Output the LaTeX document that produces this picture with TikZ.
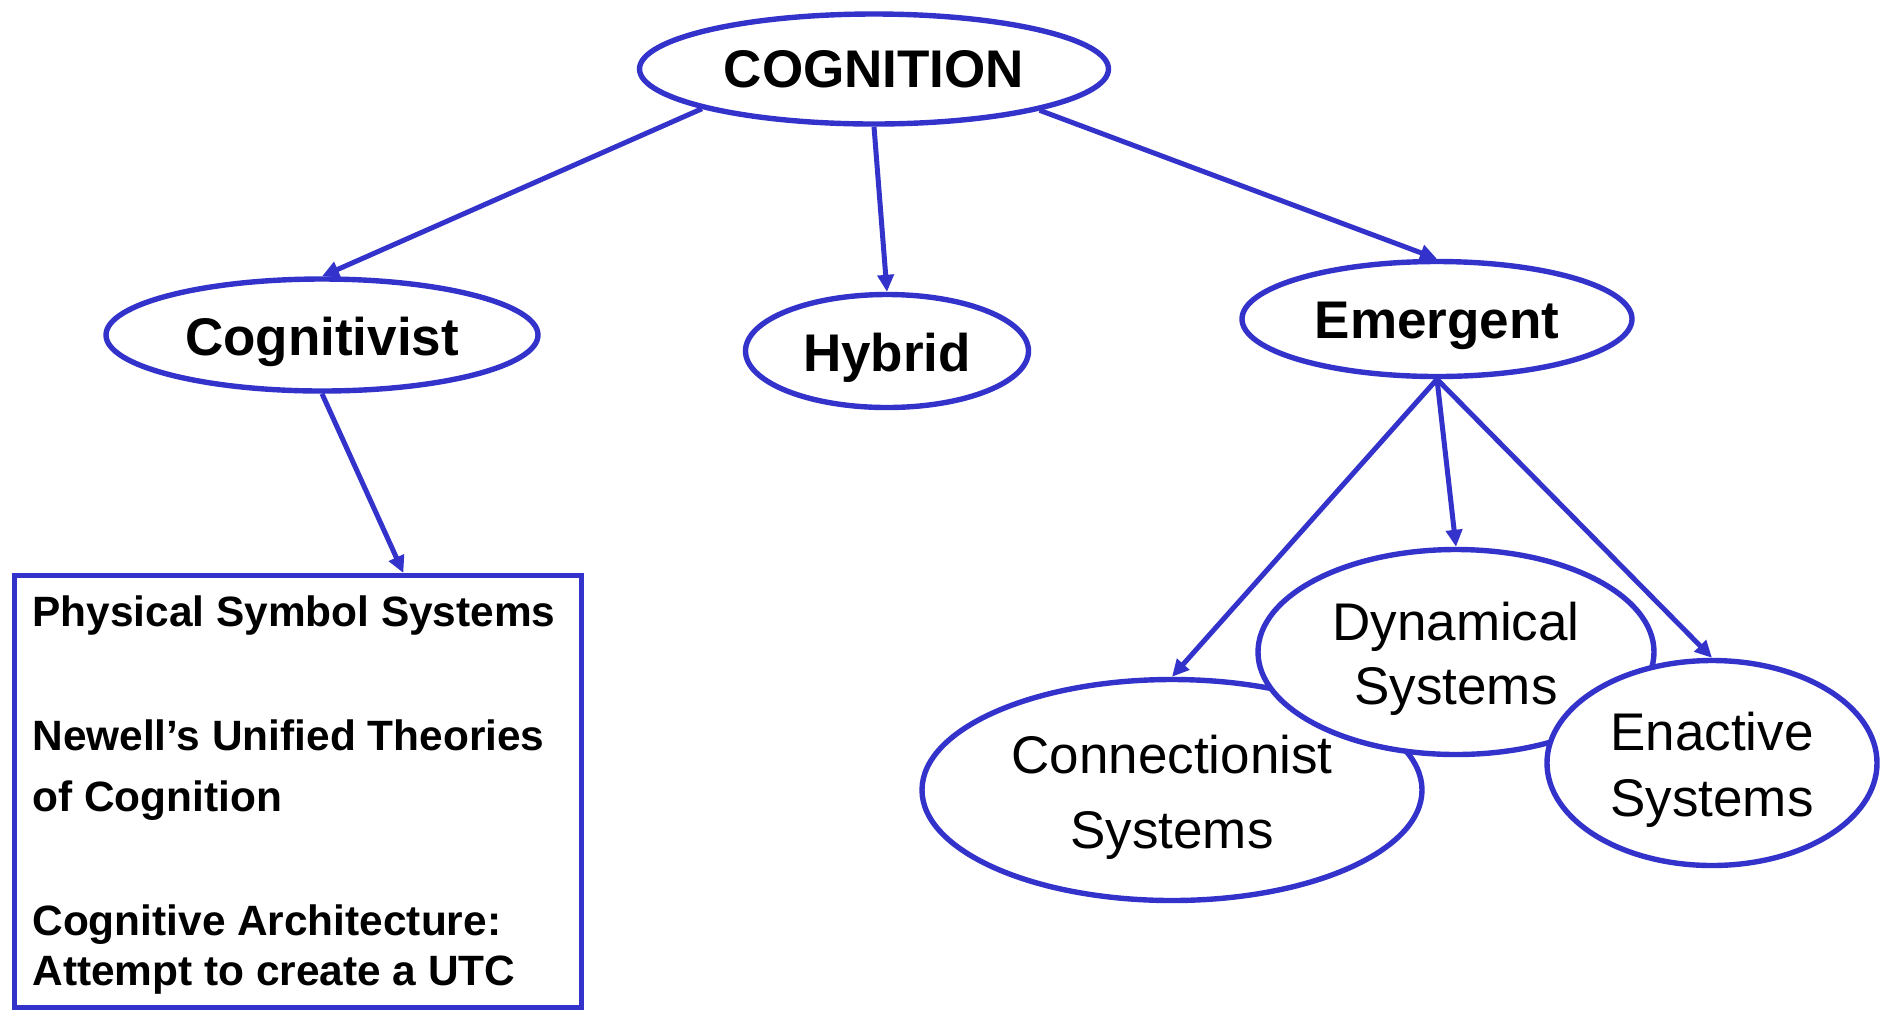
\documentclass[tikz,border=0pt]{standalone}
\usepackage{fontspec}
\setmainfont{Liberation Sans}
\usetikzlibrary{shapes.geometric,arrows.meta,calc}
\definecolor{cblue}{RGB}{51,51,204}
\begin{document}
\begin{tikzpicture}[x=0.5pt,y=-0.5pt,
  oval/.style={ellipse,draw=cblue,line width=2.7pt,fill=white,inner sep=0pt},
  lbl/.style={align=center,inner sep=0pt,yshift=-3.5pt},
  bigtxt/.style={font=\fontsize{26.5}{30}\selectfont\bfseries},
  smalltxt/.style={font=\fontsize{26.5}{#1}\selectfont},
  link/.style={draw=cblue,line width=2.5pt,-{Triangle[length=8.5pt,width=8pt]}},
  boxtext/.style={anchor=base west,font=\fontsize{21.2}{26}\selectfont\bfseries,inner sep=0pt}]
\fill[white] (0,0) rectangle (1881,1009);
\useasboundingbox (0,0) rectangle (1881,1009);

\node[oval,minimum width=234.5pt,minimum height=55pt] (cog) at (874,69) {};
\node[lbl,bigtxt,yshift=3.5pt] (cogT) at (cog) {COGNITION};
\node[oval,minimum width=216pt,minimum height=56pt] (cogv) at (322,335) {};
\node[lbl,bigtxt] (cogvT) at (cogv) {Cognitivist};
\node[oval,minimum width=141.5pt,minimum height=56.5pt] (hyb) at (887,351) {};
\node[lbl,bigtxt] (hybT) at (hyb) {Hybrid};
\node[oval,minimum width=195pt,minimum height=57.5pt] (em) at (1437,319) {};
\node[lbl,bigtxt] (emT) at (em) {Emergent};

\node[oval,minimum width=250pt,minimum height=110.5pt] (conn) at (1172,790) {};
\node[oval,minimum width=198pt,minimum height=102.5pt] (dyn) at (1456,652) {};
\node[oval,minimum width=165pt,minimum height=102.5pt] (ena) at (1712,763) {};
\node[lbl,smalltxt=37.5pt] (connT) at (conn) {Connectionist\\Systems};
\node[lbl,smalltxt=32pt] (dynT) at (dyn) {Dynamical\\Systems};
\node[lbl,smalltxt=33pt] (enaT) at (ena) {Enactive\\Systems};

\node[draw=cblue,line width=2.7pt,minimum width=283.75pt,minimum height=216pt,inner sep=0pt,anchor=north west] (box) at (11.5,573) {};
\node[boxtext] (t1) at (32,626) {Physical Symbol Systems};
\node[boxtext] (t2) at (32,750) {Newell’s Unified Theories};
\node[boxtext] (t3) at (32,811) {of Cognition};
\node[boxtext] (t4) at (32,935) {Cognitive Architecture:};
\node[boxtext] (t5) at (32,985) {Attempt to create a UTC};

\coordinate (boxin) at ($(box.north west)!0.684!(box.north east)$);

\draw[link] (cog.193.5) -- (cogv.north);
\draw[link] (cog.south) -- (hyb.north);
\draw[link] (cog.346.5) -- (em.north);
\draw[link] (cogv.south) -- (boxin);
\draw[link] (em.south) -- (conn.north);
\draw[link] (em.south) -- (dyn.north);
\draw[link] (em.south) -- (ena.north);
\end{tikzpicture}
\end{document}
